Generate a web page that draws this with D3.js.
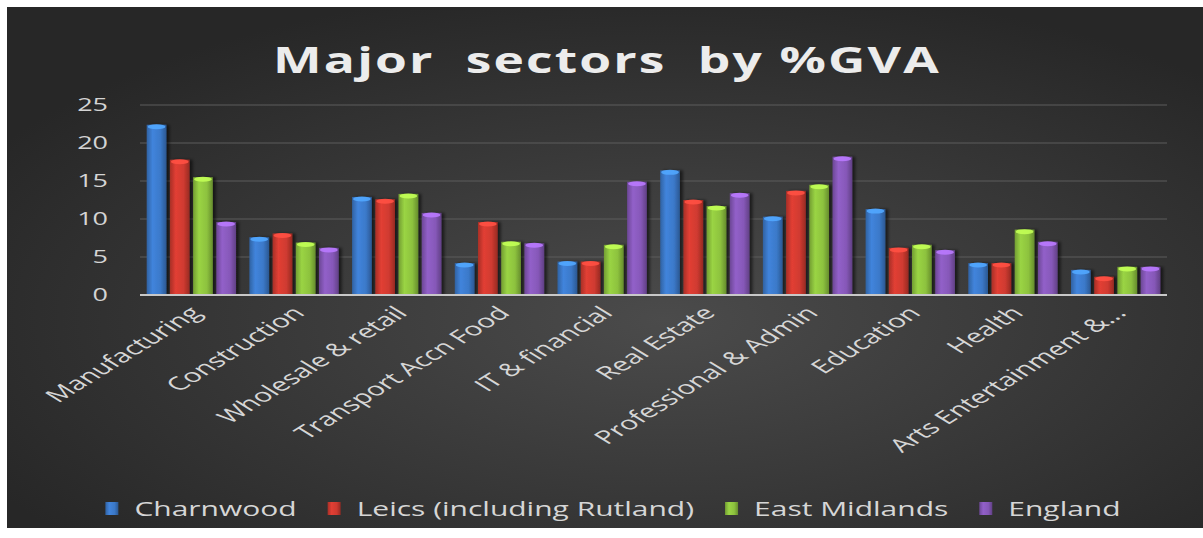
<!DOCTYPE html>
<html>
<head>
<meta charset="utf-8">
<script src="https://cdn.jsdelivr.net/npm/d3@7"></script>
<style>
  html, body { margin: 0; padding: 0; background: #fff; }
  svg { display: block; font-family: "Open Sans", "Noto Sans", sans-serif; }
</style>
</head>
<body>
<div id="chart"></div>
<script>
var categories = ["Manufacturing", "Construction", "Wholesale & retail", "Transport Accn Food",
  "IT & financial", "Real Estate", "Professional & Admin", "Education", "Health", "Arts Entertainment &..."];
var seriesNames = ["Charnwood", "Leics (including Rutland)", "East Midlands", "England"];
var charnwood = [22.4, 7.6, 12.9, 4.2, 4.4, 16.4, 10.3, 11.3, 4.2, 3.3];
var leics     = [17.8, 8.1, 12.6, 9.6, 4.4, 12.5, 13.7, 6.2, 4.2, 2.4];
var eastMids  = [15.5, 6.9, 13.3, 7.0, 6.6, 11.7, 14.5, 6.6, 8.6, 3.7];
var england   = [9.6, 6.2, 10.8, 6.8, 14.9, 13.4, 18.2, 5.9, 7.0, 3.7];
var yTicks = [0, 5, 10, 15, 20, 25];
var colors = ["#3b79c9", "#cf3a30", "#8dc23e", "#8658b8"];

(function(){
  var W = 1203, H = 538;
  var plot = {left: 140, right: 1167, top: 105, bottom: 295};
  var stretch = 1.5;

  var values = [charnwood, leics, eastMids, england];

  var svg = d3.select("#chart").append("svg")
    .attr("width", W).attr("height", H);

  var defs = svg.append("defs");
  var bg = defs.append("radialGradient").attr("id", "bg")
    .attr("cx", "55%").attr("cy", "60%").attr("r", "65%");
  bg.append("stop").attr("offset", "0%").attr("stop-color", "#4b4b4b");
  bg.append("stop").attr("offset", "100%").attr("stop-color", "#272727");

  colors.forEach(function(c, i){
    var g = defs.append("linearGradient").attr("id", "bar" + i)
      .attr("x1", "0%").attr("x2", "100%").attr("y1", "0%").attr("y2", "0%");
    var base = d3.color(c);
    g.append("stop").attr("offset", "0%").attr("stop-color", base.darker(0.6));
    g.append("stop").attr("offset", "30%").attr("stop-color", base.brighter(0.25));
    g.append("stop").attr("offset", "70%").attr("stop-color", base);
    g.append("stop").attr("offset", "100%").attr("stop-color", base.darker(0.9));
  });
  var shadow = defs.append("filter").attr("id", "shadow")
    .attr("x", "-20%").attr("y", "-5%").attr("width", "160%").attr("height", "110%");
  shadow.append("feDropShadow").attr("dx", 3).attr("dy", 0).attr("stdDeviation", 1.5)
    .attr("flood-color", "#000").attr("flood-opacity", 0.55);

  // background with white edge
  svg.append("rect").attr("x", 7).attr("y", 7).attr("width", W - 7).attr("height", 521)
    .attr("fill", "url(#bg)");

  var x0 = d3.scaleBand().domain(categories).range([plot.left, plot.right])
    .paddingInner(0.13).paddingOuter(0.065);
  var x1 = d3.scaleBand().domain(d3.range(4)).range([0, x0.bandwidth()]).paddingInner(0.15);
  var y = d3.scaleLinear().domain([0, 25]).range([plot.bottom, plot.top]);

  // gridlines
  svg.append("g").selectAll("line").data(yTicks.slice(1)).enter().append("line")
    .attr("x1", plot.left).attr("x2", plot.right)
    .attr("y1", function(d){ return y(d); }).attr("y2", function(d){ return y(d); })
    .attr("stroke", "#5d5d5d").attr("stroke-width", 1.2);

  // y labels
  svg.append("g").selectAll("text").data(yTicks).enter().append("text")
    .attr("transform", function(d){ return "translate(108," + y(d) + ") scale(" + stretch + ",1)"; })
    .attr("text-anchor", "end").attr("dy", "0.36em")
    .attr("font-size", 18).attr("fill", "#d4d4d4")
    .text(function(d){ return d; });

  // bars
  var groups = svg.append("g").selectAll("g").data(categories).enter().append("g")
    .attr("transform", function(d){ return "translate(" + x0(d) + ",0)"; });
  var bars = groups.selectAll("g").data(function(d, ci){
      return values.map(function(s, si){ return {s: si, v: s[ci]}; });
    }).enter().append("g");
  bars.append("rect")
    .attr("x", function(d){ return x1(d.s); })
    .attr("width", x1.bandwidth())
    .attr("y", function(d){ return y(d.v); })
    .attr("height", function(d){ return y(0) - y(d.v); })
    .attr("fill", function(d){ return "url(#bar" + d.s + ")"; })
    .attr("filter", "url(#shadow)");
  bars.append("ellipse")
    .attr("cx", function(d){ return x1(d.s) + x1.bandwidth() / 2; })
    .attr("cy", function(d){ return y(d.v) + 2; })
    .attr("rx", x1.bandwidth() / 2 - 1).attr("ry", 2.5)
    .attr("fill", function(d){ return d3.color(colors[d.s]).brighter(0.9); })
    .attr("opacity", 0.9);

  // axis line
  svg.append("line").attr("x1", plot.left).attr("x2", plot.right)
    .attr("y1", y(0)).attr("y2", y(0))
    .attr("stroke", "#c8c8c8").attr("stroke-width", 2);

  // x labels
  svg.append("g").selectAll("text").data(categories).enter().append("text")
    .attr("transform", function(d){
      return "translate(" + (x0(d) + x0.bandwidth() / 2 - 3) + "," + 305 + ") scale(1.62,1) rotate(-45)";
    })
    .attr("text-anchor", "end").attr("dy", "0.7em")
    .attr("font-size", 18.5).attr("fill", "#d6d6d6")
    .text(function(d){ return d; });

  // title
  var title = svg.append("text")
    .attr("text-anchor", "middle").attr("font-size", 36).attr("font-weight", "bold")
    .attr("fill", "#ececec").attr("letter-spacing", 1.5)
    .text("Major  sectors  by %GVA")
    .attr("xml:space", "preserve").style("white-space", "pre");
  var tw = title.node().getComputedTextLength();
  title.attr("transform", "translate(607,73) scale(" + (668 / tw) + ",1)");

  // legend
  var legend = svg.append("g");
  var items = legend.selectAll("g").data(seriesNames).enter().append("g");
  items.append("rect").attr("width", 13).attr("height", 13).attr("y", -7)
    .attr("fill", function(d, i){ return "url(#bar" + i + ")"; });
  items.append("text").attr("x", 0).attr("dy", "0.35em")
    .attr("transform", "translate(29,0) scale(" + stretch + ",1)")
    .attr("font-size", 20).attr("fill", "#d6d6d6")
    .text(function(d){ return d; });
  var pos = 0, starts = [];
  items.each(function(){
    var t = d3.select(this).select("text").node().getComputedTextLength() * stretch;
    starts.push(pos);
    pos += 29 + t + 31;
  });
  var total = pos - 31;
  var lx = 613 - total / 2;
  items.attr("transform", function(d, i){ return "translate(" + (lx + starts[i]) + ",509)"; });
})();
</script>
</body>
</html>
